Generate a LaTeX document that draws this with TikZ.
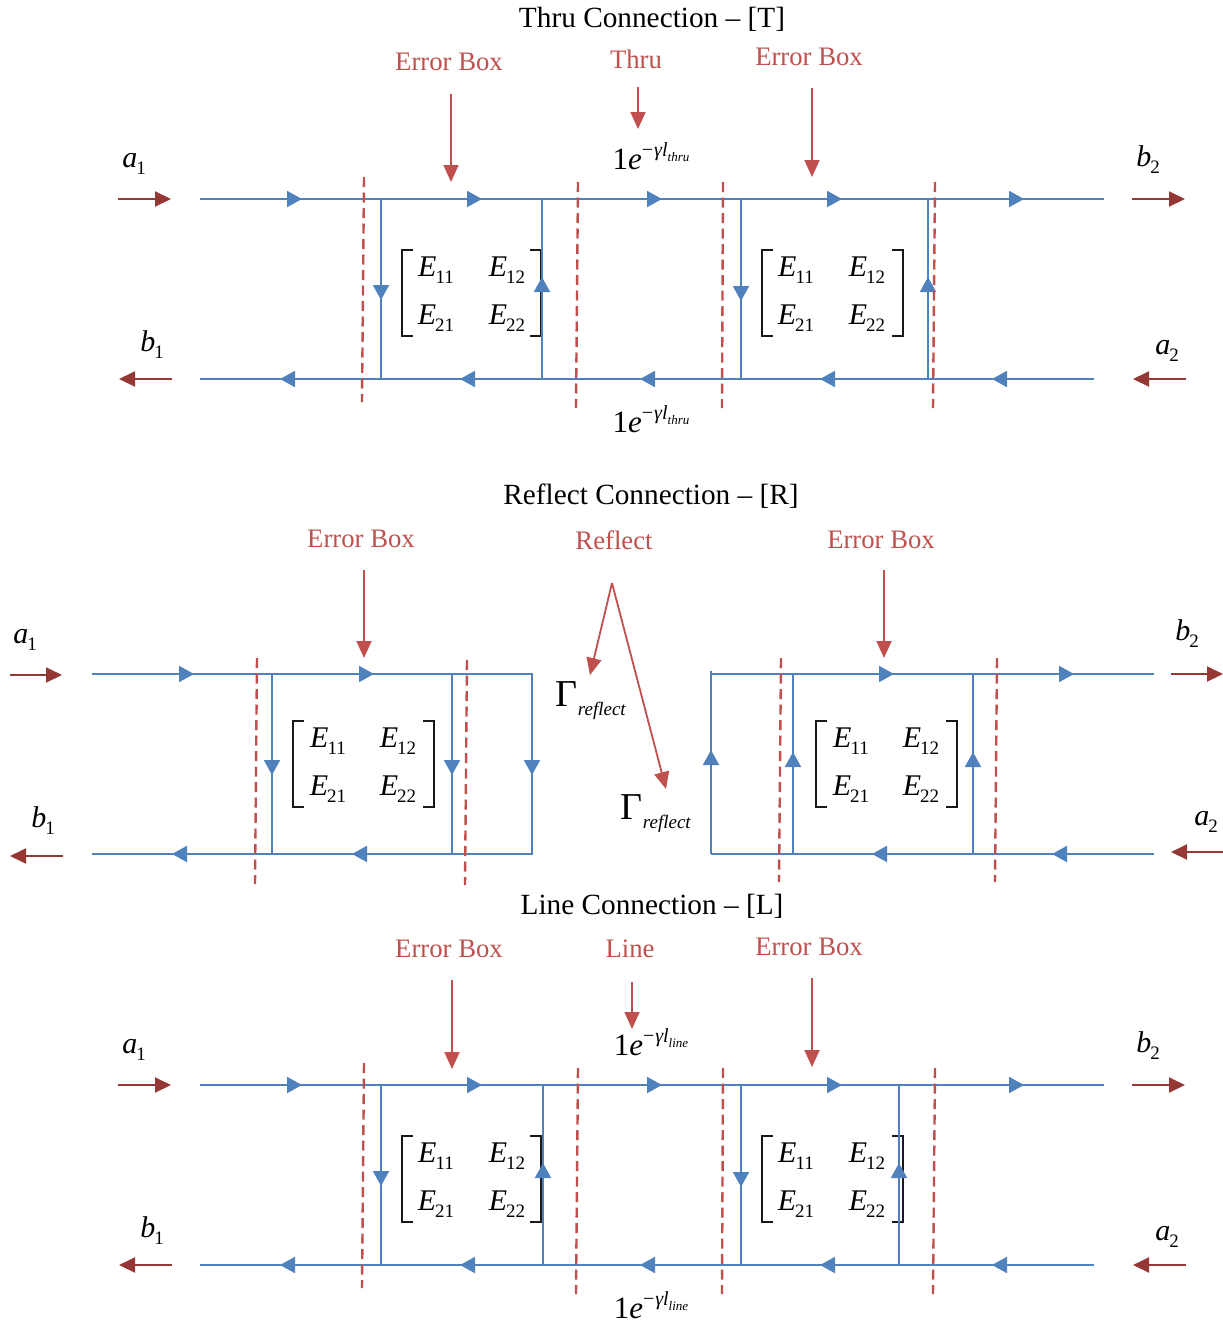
\documentclass[tikz,border=0pt]{standalone}
\usepackage{fontspec}
\setmainfont{Liberation Serif}
\usetikzlibrary{arrows.meta}
\definecolor{flowblue}{HTML}{4F81BD}
\definecolor{boxred}{HTML}{C0504D}
\definecolor{portred}{HTML}{953735}
\newcommand{\mysub}[2]{{\fontsize{30}{30}\selectfont\textit{#1}\hspace{-1pt}\raisebox{-7pt}{\fontsize{19}{19}\selectfont #2}}}
\newcommand{\prop}[1]{{\fontsize{31}{31}\selectfont 1\textit{e}\raisebox{13pt}{\fontsize{20}{20}\selectfont −\hspace{1pt}\textit{γl}\raisebox{-5pt}{\fontsize{13}{13}\selectfont\textit{#1}}}}}
\newcommand{\grefl}{{\fontsize{38}{38}\selectfont Γ\raisebox{-9pt}{\fontsize{19}{19}\selectfont\textit{reflect}}}}
\tikzset{
 flow/.style={draw=flowblue,line width=1.9pt},
 flowtip/.style={flow,-{Triangle[length=15pt,width=16pt,fill=flowblue]}},
 cut/.style={draw=boxred,line width=2.4pt,dash pattern=on 10pt off 5.5pt},
 callout/.style={draw=boxred,line width=1.8pt,-{Triangle[length=17pt,width=15pt,fill=boxred]}},
 port/.style={draw=portred,line width=2pt,-{Triangle[length=16pt,width=15pt,fill=portred]}},
 brk/.style={draw=black!90,line width=1.4pt},
 title/.style={font=\fontsize{29.3}{29.3}\selectfont,inner sep=0pt,text=black},
 redlabel/.style={font=\fontsize{26.7}{26.7}\selectfont,inner sep=0pt,text=boxred},
 sym/.style={inner sep=0pt,text=black},
}
% matrix: prefix, left x, right x, top y, E-column x1, x2
\newcommand{\smat}[6]{%
 \coordinate (#1L) at (#2,#4); \coordinate (#1R) at (#3,#4);
 \coordinate (#1LB) at (#2,#4+86); \coordinate (#1RB) at (#3,#4+86);
 \coordinate (#1La) at (#2+11,#4); \coordinate (#1Ra) at (#3-11,#4);
 \coordinate (#1Lb) at (#2+11,#4+86); \coordinate (#1Rb) at (#3-11,#4+86);
 \draw[brk] (#1La) -- (#1L) -- (#1LB) -- (#1Lb);
 \draw[brk] (#1Ra) -- (#1R) -- (#1RB) -- (#1Rb);
 \node[sym] (#1e11) at (#5+1,#4+20) {\mysub{E}{11}};
 \node[sym] (#1e12) at (#6,#4+20) {\mysub{E}{12}};
 \node[sym] (#1e21) at (#5+1,#4+68) {\mysub{E}{21}};
 \node[sym] (#1e22) at (#6,#4+68) {\mysub{E}{22}};
}
% connector between two coordinates it defines: style, name, x1, y1, x2, y2
\newcommand{\conn}[6]{%
 \coordinate (#2s) at (#3,#4); \coordinate (#2e) at (#5,#6);
 \draw[#1] (#2s) -- (#2e);
}
% arrowhead on a flow line: name, x of tip, y of tip, dx, dy to the tail
\newcommand{\tip}[5]{\conn{flowtip}{#1}{#2+#4}{#3+#5}{#2}{#3}}
% thru / line panel: prefix, y offset, x of 2nd up vertical, x of far up vertical, subscript
\newcommand{\panel}[5]{%
 \begin{scope}[yshift=-#2pt]
 \smat{#1m}{402}{541}{250}{435}{507}
 \smat{#1n}{762}{903}{250}{795}{867}
 \conn{flow}{#1top}{200}{199}{1104}{199}
 \conn{flow}{#1bot}{1094}{379}{200}{379}
 \conn{flow}{#1va}{381}{199}{381}{379}
 \conn{flow}{#1vc}{#3}{379}{#3}{199}
 \conn{flow}{#1ve}{741}{199}{741}{379}
 \conn{flow}{#1vg}{#4}{379}{#4}{199}
 \tip{#1ta}{302}{199}{-18}{0}
 \tip{#1tb}{482}{199}{-18}{0}
 \tip{#1tc}{662}{199}{-18}{0}
 \tip{#1td}{842}{199}{-18}{0}
 \tip{#1te}{1024}{199}{-18}{0}
 \tip{#1bb}{992}{379}{18}{0}
 \tip{#1bc}{820}{379}{18}{0}
 \tip{#1bd}{640}{379}{18}{0}
 \tip{#1be}{460}{379}{18}{0}
 \tip{#1bf}{280}{379}{18}{0}
 \tip{#1vb}{381}{300}{0}{-18}
 \tip{#1vd}{#3}{277}{0}{18}
 \tip{#1vf}{741}{301}{0}{-18}
 \tip{#1vh}{#4}{277}{0}{18}
 \conn{cut}{#1ca}{364}{177}{362}{402}
 \conn{cut}{#1cb}{578}{182}{576}{408}
 \conn{cut}{#1cc}{723}{182}{722}{408}
 \conn{cut}{#1cd}{935}{182}{933}{408}
 \conn{port}{#1pa}{118}{199}{171}{199}
 \conn{port}{#1pb}{172}{379}{119}{379}
 \conn{port}{#1pc}{1132}{199}{1185}{199}
 \conn{port}{#1pd}{1186}{379}{1133}{379}
 \node[sym] (#1a1) at (134,164) {\mysub{a}{1}};
 \node[sym] (#1b1) at (152,345) {\mysub{b}{1}};
 \node[sym] (#1b2) at (1148,160) {\mysub{b}{2}};
 \node[sym] (#1a2) at (1167,351) {\mysub{a}{2}};
 \node[sym] (#1pu) at (651,156) {\prop{#5}};
 \node[sym] (#1pl) at (651,419) {\prop{#5}};
 \end{scope}
}
\begin{document}
\begin{tikzpicture}[x=1pt,y=-1pt]
\useasboundingbox (0,0) rectangle (1223,1323);
% ---------- Thru
\panel{t}{0}{542}{928}{thru}
\node[title] (ttitle) at (652,19) {Thru Connection – [T]};
\node[redlabel] (tl1) at (449,62) {Error Box};
\node[redlabel] (tl2) at (636,59) {Thru};
\node[redlabel] (tl3) at (809,57) {Error Box};
\conn{callout}{tca}{451}{94}{451}{182}
\conn{callout}{tcb}{638}{87}{638}{129}
\conn{callout}{tcc}{812}{88}{812}{177}
% ---------- Line
\panel{l}{886}{543}{899}{line}
\node[title] (ltitle) at (652,906) {Line Connection – [L]};
\node[redlabel] (ll1) at (449,949) {Error Box};
\node[redlabel] (ll2) at (630,949) {Line};
\node[redlabel] (ll3) at (809,947) {Error Box};
\conn{callout}{lca}{452}{980}{452}{1069}
\conn{callout}{lcb}{632}{982}{632}{1029}
\conn{callout}{lcc}{812}{978}{812}{1067}
% ---------- Reflect
\node[title] (rtitle) at (651,496) {Reflect Connection – [R]};
\node[redlabel] (rl1) at (361,539) {Error Box};
\node[redlabel] (rl2) at (614,540) {Reflect};
\node[redlabel] (rl3) at (881,540) {Error Box};
\conn{callout}{rca}{364}{570}{364}{658}
\conn{callout}{rcc}{884}{570}{884}{658}
\coordinate (rfork) at (612,583);
\coordinate (rga) at (590,675);
\coordinate (rgb) at (666,789);
\draw[callout] (rfork) -- (rga);
\draw[callout] (rfork) -- (rgb);
\node[sym] (rG1) at (591,701) {\grefl};
\node[sym] (rG2) at (656,814) {\grefl};
\smat{rm}{293}{434}{721}{327}{398}
\smat{rn}{816}{957}{721}{850}{921}
% left half
\coordinate (rls) at (92,674); \coordinate (rlc) at (532,674);
\coordinate (rld) at (532,854); \coordinate (rle) at (92,854);
\draw[flow] (rls) -- (rlc) -- (rld) -- (rle);
\conn{flow}{rva}{272}{674}{272}{854}
\conn{flow}{rvc}{452}{674}{452}{854}
\tip{rta}{194}{674}{-18}{0}
\tip{rtb}{374}{674}{-18}{0}
\tip{rte}{532}{775}{0}{-18}
\tip{rbb}{352}{854}{18}{0}
\tip{rbc}{172}{854}{18}{0}
\tip{rvb}{272}{775}{0}{-18}
\tip{rvd}{452}{775}{0}{-18}
\conn{cut}{rcuta}{257}{658}{255}{884}
\conn{cut}{rcutb}{467}{660}{465}{885}
% right half
\coordinate (rrs) at (1154,674); \coordinate (rrc) at (711,674);
\coordinate (rrd) at (711,854); \coordinate (rre) at (1154,854);
\draw[flow] (rrs) -- (rrc);
\draw[flow] (rrd) -- (rre);
\conn{flow}{rra}{711}{671}{711}{854}
\conn{flow}{rvr}{793}{674}{793}{854}
\conn{flow}{rvt}{973}{674}{973}{854}
\tip{rrb}{711}{750}{0}{18}
\tip{rrc}{894}{674}{-18}{0}
\tip{rrd}{1074}{674}{-18}{0}
\tip{rrf}{1052}{854}{18}{0}
\tip{rrg}{872}{854}{18}{0}
\tip{rvs}{793}{752}{0}{18}
\tip{rvu}{973}{752}{0}{18}
\conn{cut}{rcutc}{781}{658}{779}{882}
\conn{cut}{rcutd}{997}{658}{995}{882}
% ports
\conn{port}{rpa}{10}{675}{62}{675}
\conn{port}{rpb}{63}{856}{10}{856}
\conn{port}{rpc}{1171}{674}{1223}{674}
\conn{port}{rpd}{1223}{852}{1171}{852}
\node[sym] (ra1) at (25,640) {\mysub{a}{1}};
\node[sym] (rb1) at (43,821) {\mysub{b}{1}};
\node[sym] (rb2) at (1187,634) {\mysub{b}{2}};
\node[sym] (ra2) at (1206,822) {\mysub{a}{2}};
\end{tikzpicture}
\end{document}
